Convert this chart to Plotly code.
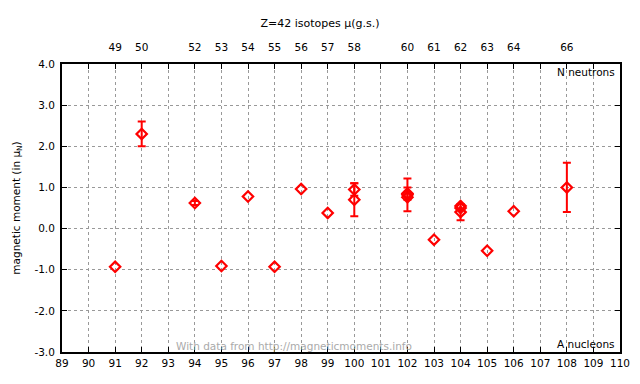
import plotly.graph_objects as go

# Mass number A, moment, and uncertainty
A_err = [92, 94, 100, 100, 102, 102, 104, 108]
mu_err = [2.30, 0.62, 0.95, 0.70, 0.82, 0.85, 0.40, 1.00]
err = [0.30, 0.05, 0.15, 0.40, 0.40, 0.15, 0.20, 0.60]

A_pts = [91, 95, 96, 97, 98, 99, 102, 103, 104, 104, 105, 106]
mu_pts = [-0.93, -0.91, 0.78, -0.93, 0.96, 0.38, 0.76, -0.27, 0.55, 0.50, -0.54, 0.42]

Z = 42
x_ticks = list(range(89, 111))
y_ticks = [-3, -2, -1, 0, 1, 2, 3, 4]
y_labels = ["-3.0", "-2.0", "-1.0", "0.0", "1.0", "2.0", "3.0", "4.0"]
A_top = [91, 92, 94, 95, 96, 97, 98, 99, 100, 102, 103, 104, 105, 106, 108]
top_labels = [str(a - Z) for a in A_top]

red = "#ff0000"
font = dict(family="DejaVu Sans", size=10.5, color="black")

fig = go.Figure()
fig.add_trace(go.Scatter(
    x=A_err, y=mu_err, mode="markers",
    marker=dict(symbol="diamond-open", size=8, color=red, line=dict(width=2.2, color=red)),
    error_y=dict(type="data", array=err, visible=True, color=red, thickness=2, width=4),
    showlegend=False, hoverinfo="x+y"))
fig.add_trace(go.Scatter(
    x=A_pts, y=mu_pts, mode="markers",
    marker=dict(symbol="diamond-open", size=8, color=red, line=dict(width=2.2, color=red)),
    showlegend=False, hoverinfo="x+y"))
# invisible trace to activate top axis
fig.add_trace(go.Scatter(x=[89, 110], y=[0, 0], xaxis="x2", mode="markers",
                         marker=dict(opacity=0), showlegend=False, hoverinfo="skip"))

grid = dict(showgrid=True, gridcolor="#999999", griddash="dot", gridwidth=1)
fig.update_layout(
    width=640, height=384,
    margin=dict(l=62, r=20, t=64, b=32, autoexpand=False),
    paper_bgcolor="white", plot_bgcolor="white",
    font=font,
    title=dict(text="Z=42 isotopes μ(g.s.)", x=0.5, xanchor="center", y=1 - 23 / 384,
               yanchor="middle",
               font=dict(family="DejaVu Sans", size=11, color="black")),
    xaxis=dict(range=[89, 110], tickvals=x_ticks, ticktext=[str(v) for v in x_ticks],
               ticks="inside", ticklen=5, tickwidth=1, tickcolor="black",
               showline=True, linecolor="black", linewidth=2, mirror=False,
               zeroline=False, tickfont=font, automargin=False, **grid),
    xaxis2=dict(range=[89, 110], overlaying="x", side="top", tickvals=A_top, ticktext=top_labels,
                ticks="inside", ticklen=5, tickwidth=1, tickcolor="black", ticklabelstandoff=7,
                minor=dict(ticks="inside", tick0=89, dtick=1, ticklen=5, tickwidth=1,
                           tickcolor="black", showgrid=False),
                showline=True, linecolor="black", linewidth=2, automargin=False,
                showgrid=False, zeroline=False, tickfont=font),
    yaxis=dict(range=[-3, 4], tickvals=y_ticks, ticktext=y_labels,
               ticks="inside", ticklen=5, tickwidth=1, tickcolor="black", ticklabelstandoff=3,
               showline=True, linecolor="black", linewidth=2, mirror="ticks",
               zeroline=False, tickfont=font, automargin=False, **grid,
               title=dict(text="magnetic moment (in μ<sub>N</sub>)", font=font, standoff=12)),
    annotations=[
        dict(text="N neutrons", xref="paper", yref="paper", x=0.995, y=1.0, xanchor="right",
             yanchor="top", showarrow=False, font=font),
        dict(text="A nucleons", xref="paper", yref="paper", x=0.995, y=0.0, xanchor="right",
             yanchor="bottom", showarrow=False, font=font),
        dict(text="With data from http://magneticmoments.info", xref="paper", yref="paper",
             x=0.416, y=0.0, xanchor="center", yanchor="bottom", showarrow=False, yshift=-2,
             font=dict(family="DejaVu Sans", size=10.5, color="#aaaaaa")),
    ],
)
fig.write_html("out.html", config={"displayModeBar": False},
               post_script="document.body.style.margin='0px';")
